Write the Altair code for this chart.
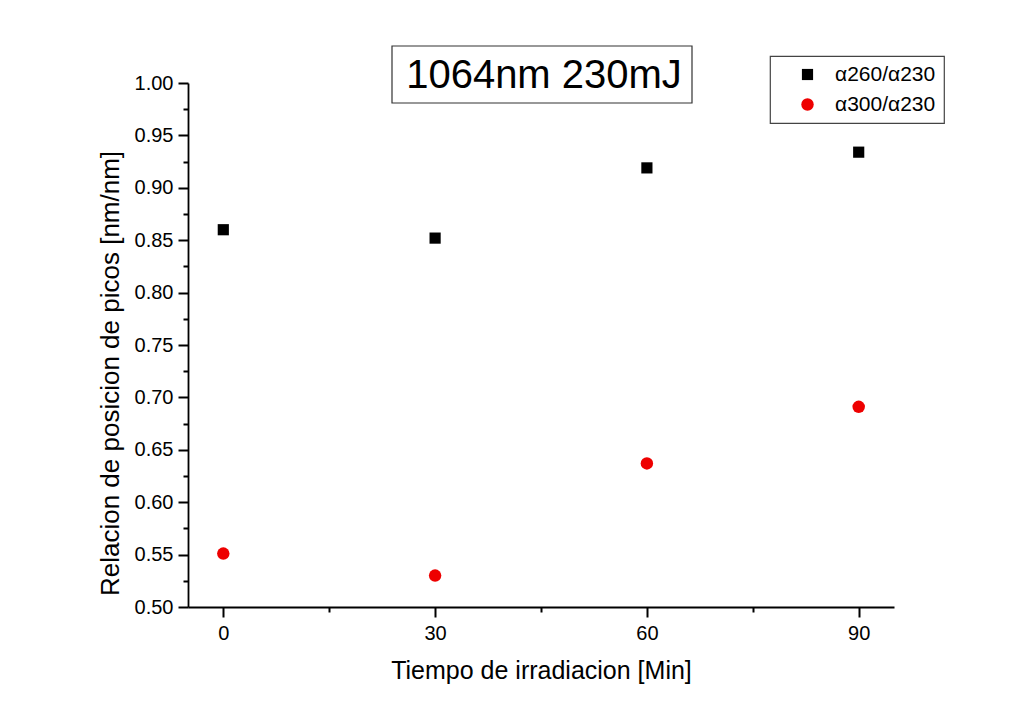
import altair as alt
import pandas as pd

# ---- data ----
times = [0, 30, 60, 90]
ratio_260 = [0.860, 0.852, 0.919, 0.934]
ratio_300 = [0.551, 0.530, 0.637, 0.691]
series_names = ["α260/α230", "α300/α230"]
series_colors = ["#000000", "#ee0000"]
series_shapes = ["square", "circle"]

x_major = [0, 30, 60, 90]
x_minor = [15, 45, 75]
y_major = [0.50, 0.55, 0.60, 0.65, 0.70, 0.75, 0.80, 0.85, 0.90, 0.95, 1.00]
y_minor = [0.525, 0.575, 0.625, 0.675, 0.725, 0.775, 0.825, 0.875, 0.925, 0.975]

chart_title = "1064nm 230mJ"
x_title = "Tiempo de irradiacion [Min]"
y_title = "Relacion de posicion de picos [nm/nm]"

FONT = "Liberation Sans"

df = pd.DataFrame({
    "t": times + times,
    "r": ratio_260 + ratio_300,
    "s": [series_names[0]] * len(times) + [series_names[1]] * len(times),
})

xscale = alt.Scale(domain=[-5, 95], nice=False, zero=False)
yscale = alt.Scale(domain=[0.5, 1.0], nice=False, zero=False)

points = alt.Chart(df).mark_point(filled=True, opacity=1, strokeWidth=0).encode(
    x=alt.X("t:Q", scale=xscale, axis=alt.Axis(
        values=x_major, title=x_title, orient="bottom", format="d",
        grid=False, domainColor="black", domainWidth=1.8, tickColor="black",
        tickWidth=2, tickSize=10, labelPadding=6, labelFont=FONT, labelFontSize=20,
        labelColor="black", titleFont=FONT, titleFontSize=25, titleFontWeight="normal",
        titleColor="black", titlePadding=15)),
    y=alt.Y("r:Q", scale=yscale, axis=alt.Axis(
        values=y_major, title=y_title, orient="left", format=".2f",
        grid=False, domainColor="black", domainWidth=1.8, tickColor="black",
        tickWidth=2, tickSize=10, labelPadding=5, labelFont=FONT, labelFontSize=20,
        labelColor="black", titleFont=FONT, titleFontSize=26, titleFontWeight="normal",
        titleColor="black", titlePadding=11, titleY=290)),
    color=alt.Color("s:N", scale=alt.Scale(domain=series_names, range=series_colors),
                    legend=alt.Legend(title=None)),
    shape=alt.Shape("s:N", scale=alt.Scale(domain=series_names, range=series_shapes),
                    legend=alt.Legend(title=None)),
    size=alt.Size("s:N", scale=alt.Scale(domain=series_names, range=[125, 155]), legend=None),
)

minor = alt.Chart(df).mark_point(opacity=0).encode(
    x=alt.X("t:Q", scale=xscale, axis=alt.Axis(
        values=x_minor, orient="bottom", title=None, labels=False, domain=False,
        grid=False, tickColor="black", tickWidth=2, tickSize=5)),
    y=alt.Y("r:Q", scale=yscale, axis=alt.Axis(
        values=y_minor, orient="left", title=None, labels=False, domain=False,
        grid=False, tickColor="black", tickWidth=2, tickSize=5)),
)

title_df = pd.DataFrame({"label": [chart_title]})
title_box = alt.Chart(title_df).mark_rect(fill="white", stroke="#333333", strokeWidth=1.2).encode(
    x=alt.value(204), x2=alt.value(504), y=alt.value(-37), y2=alt.value(20))
title_text = alt.Chart(title_df).mark_text(
    font=FONT, fontSize=40, color="black", align="center", baseline="alphabetic").encode(
    x=alt.value(356), y=alt.value(5), text="label:N")

chart = alt.layer(points, minor, title_box, title_text).resolve_axis(
    x="independent", y="independent"
).properties(
    width=706, height=524,
    autosize=alt.AutoSizeParams(type="none"),
    padding={"left": 188, "top": 83, "right": 128, "bottom": 117},
    background="white",
).configure_view(stroke=None).configure_legend(
    orient="none", legendX=582, legendY=-27, padding=8,
    strokeColor="#444444", strokeWidth=1.2,
    labelFont=FONT, labelFontSize=21, labelColor="black",
    symbolSize=140, symbolOffset=19, labelOffset=17, rowPadding=8,
    symbolStrokeWidth=0,
)

chart.save("out.html", embed_options={"renderer": "svg", "actions": False})
